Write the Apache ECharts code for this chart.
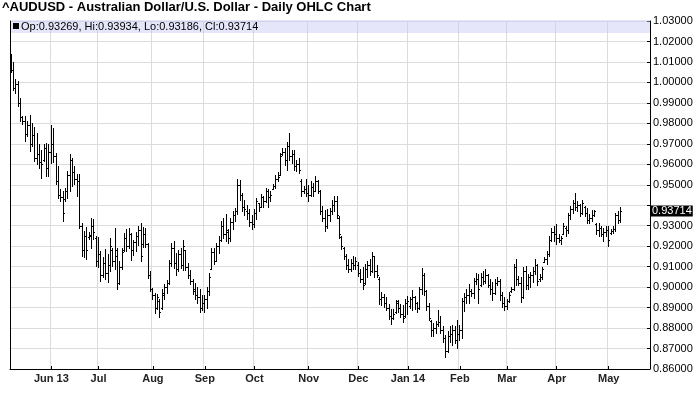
<!DOCTYPE html>
<html>
<head>
<meta charset="utf-8">
<title>AUDUSD Daily OHLC</title>
<script src="https://cdn.jsdelivr.net/npm/echarts@6/dist/echarts.min.js"></script>
<style>
  html, body { margin: 0; padding: 0; background: #fff; }
  #chart { width: 700px; height: 411px; }
</style>
</head>
<body>
<div id="chart"></div>
<script>
// daily bars per month, each row is [open, high, low, close]
const may13 = [
  [1.0130,1.0140,1.0050,1.0060],[1.0060,1.0100,0.9965,0.9975],[0.9975,1.0015,0.9950,0.9990],
  [0.9990,1.0005,0.9885,0.9900],[0.9900,0.9922,0.9810,0.9830],[0.9830,0.9835,0.9795,0.9810],
  [0.9810,0.9835,0.9713,0.9750],[0.9750,0.9810,0.9737,0.9790],[0.9790,0.9843,0.9664,0.9700],
  [0.9700,0.9800,0.9690,0.9745],[0.9745,0.9781,0.9615,0.9630],[0.9630,0.9753,0.9600,0.9650],
  [0.9650,0.9697,0.9583,0.9610],[0.9610,0.9672,0.9531,0.9600],[0.9620,0.9697,0.9615,0.9680],
  [0.9680,0.9705,0.9543,0.9580],[0.9580,0.9697,0.9543,0.9660]
];
const jun13 = [
  [0.9660,0.9794,0.9607,0.9700],[0.9700,0.9775,0.9612,0.9640],[0.9640,0.9656,0.9502,0.9520],
  [0.9520,0.9591,0.9437,0.9450],[0.9450,0.9477,0.9420,0.9440],[0.9440,0.9469,0.9323,0.9360],
  [0.9430,0.9485,0.9420,0.9470],[0.9470,0.9567,0.9437,0.9550],[0.9550,0.9652,0.9470,0.9620],
  [0.9620,0.9633,0.9494,0.9560],[0.9560,0.9592,0.9503,0.9530],[0.9530,0.9551,0.9446,0.9520],
  [0.9520,0.9551,0.9291,0.9300],[0.9300,0.9315,0.9153,0.9180],[0.9180,0.9275,0.9145,0.9250],
  [0.9250,0.9294,0.9137,0.9180],[0.9245,0.9267,0.9234,0.9255],[0.9250,0.9340,0.9193,0.9300],
  [0.9300,0.9332,0.9234,0.9270],[0.9240,0.9250,0.9104,0.9130]
];
const jul13 = [
  [0.9130,0.9245,0.9100,0.9160],[0.9160,0.9177,0.9031,0.9060],[0.9060,0.9145,0.9047,0.9120],
  [0.9120,0.9185,0.9039,0.9070],[0.9070,0.9161,0.9023,0.9110],[0.9110,0.9242,0.9080,0.9200],
  [0.9180,0.9193,0.9104,0.9130],[0.9130,0.9291,0.9088,0.9180],[0.9150,0.9193,0.8990,0.9020],
  [0.9020,0.9128,0.9015,0.9100],[0.9100,0.9193,0.9088,0.9170],[0.9180,0.9262,0.9177,0.9240],
  [0.9240,0.9283,0.9177,0.9200],[0.9200,0.9287,0.9190,0.9260],[0.9260,0.9263,0.9134,0.9180],
  [0.9180,0.9231,0.9158,0.9220],[0.9220,0.9271,0.9174,0.9250],[0.9250,0.9298,0.9206,0.9280],
  [0.9280,0.9311,0.9126,0.9150],[0.9210,0.9295,0.9198,0.9260],[0.9260,0.9287,0.9198,0.9210],
  [0.9210,0.9215,0.9045,0.9060],[0.9060,0.9077,0.8980,0.8990]
];
const aug13 = [
  [0.8990,0.8997,0.8940,0.8960],[0.8960,0.8973,0.8876,0.8900],[0.8900,0.8965,0.8892,0.8950],
  [0.8930,0.8940,0.8852,0.8880],[0.8900,0.8989,0.8895,0.8970],[0.8960,0.9013,0.8940,0.9000],
  [0.9000,0.9037,0.8973,0.9020],[0.9020,0.9134,0.9013,0.9120],[0.9120,0.9215,0.9102,0.9190],
  [0.9190,0.9223,0.9094,0.9120],[0.9120,0.9166,0.9061,0.9090],[0.9090,0.9182,0.9077,0.9160],
  [0.9160,0.9190,0.9094,0.9110],[0.9110,0.9231,0.9085,0.9200],[0.9180,0.9182,0.9085,0.9100],
  [0.9100,0.9118,0.9045,0.9060],[0.9060,0.9085,0.9013,0.9030],[0.9030,0.9040,0.8965,0.8980],
  [0.8990,0.9021,0.8940,0.8960],[0.8960,0.9000,0.8920,0.8950],[0.8950,0.8990,0.8880,0.8900],
  [0.8900,0.8960,0.8890,0.8920]
];
const sep13 = [
  [0.8920,0.8960,0.8880,0.8940],[0.8940,0.9000,0.8900,0.8980],[0.8980,0.9070,0.8960,0.9050],
  [0.9090,0.9193,0.9087,0.9170],[0.9170,0.9193,0.9111,0.9130],[0.9130,0.9217,0.9128,0.9200],
  [0.9200,0.9250,0.9168,0.9230],[0.9230,0.9322,0.9225,0.9300],[0.9300,0.9339,0.9241,0.9260],
  [0.9260,0.9355,0.9225,0.9280],[0.9270,0.9282,0.9217,0.9240],[0.9240,0.9339,0.9225,0.9320],
  [0.9320,0.9371,0.9282,0.9350],[0.9350,0.9387,0.9322,0.9370],[0.9370,0.9528,0.9355,0.9500],
  [0.9500,0.9525,0.9428,0.9450],[0.9450,0.9460,0.9370,0.9390],[0.9390,0.9428,0.9350,0.9380],
  [0.9370,0.9400,0.9335,0.9360],[0.9360,0.9381,0.9300,0.9320],[0.9320,0.9350,0.9284,0.9310]
];
const oct13 = [
  [0.9310,0.9381,0.9292,0.9360],[0.9360,0.9437,0.9332,0.9420],[0.9410,0.9413,0.9373,0.9390],
  [0.9390,0.9453,0.9389,0.9440],[0.9440,0.9445,0.9389,0.9420],[0.9420,0.9485,0.9415,0.9470],
  [0.9470,0.9477,0.9389,0.9440],[0.9440,0.9469,0.9421,0.9450],[0.9480,0.9502,0.9477,0.9495],
  [0.9495,0.9550,0.9485,0.9530],[0.9530,0.9561,0.9518,0.9540],[0.9550,0.9655,0.9550,0.9640],
  [0.9650,0.9679,0.9647,0.9660],[0.9660,0.9679,0.9598,0.9620],[0.9620,0.9711,0.9574,0.9690],
  [0.9690,0.9755,0.9623,0.9640],[0.9640,0.9671,0.9606,0.9650],[0.9650,0.9671,0.9574,0.9590],
  [0.9590,0.9623,0.9566,0.9600],[0.9600,0.9631,0.9558,0.9570],[0.9520,0.9526,0.9445,0.9470],
  [0.9470,0.9494,0.9461,0.9480],[0.9480,0.9526,0.9445,0.9460]
];
const nov13 = [
  [0.9460,0.9500,0.9419,0.9450],[0.9450,0.9516,0.9445,0.9490],[0.9490,0.9508,0.9444,0.9470],
  [0.9470,0.9544,0.9470,0.9520],[0.9520,0.9524,0.9460,0.9470],[0.9470,0.9475,0.9355,0.9370],
  [0.9370,0.9395,0.9323,0.9340],[0.9340,0.9379,0.9274,0.9300],[0.9300,0.9382,0.9290,0.9350],
  [0.9350,0.9387,0.9323,0.9370],[0.9370,0.9424,0.9355,0.9400],[0.9400,0.9447,0.9371,0.9420],
  [0.9420,0.9444,0.9339,0.9350],[0.9340,0.9345,0.9242,0.9260],[0.9245,0.9250,0.9185,0.9200],
  [0.9190,0.9194,0.9137,0.9150],[0.9150,0.9161,0.9089,0.9110],[0.9110,0.9137,0.9073,0.9090],
  [0.9090,0.9137,0.9081,0.9120],[0.9120,0.9153,0.9089,0.9110],[0.9110,0.9145,0.9089,0.9130]
];
const dec13 = [
  [0.9110,0.9121,0.9056,0.9070],[0.9070,0.9089,0.9024,0.9040],[0.9040,0.9100,0.8992,0.9010],
  [0.9020,0.9114,0.9015,0.9090],[0.9090,0.9130,0.9049,0.9110],[0.9110,0.9138,0.9057,0.9080],
  [0.9080,0.9171,0.9075,0.9150],[0.9150,0.9154,0.9049,0.9080],[0.9080,0.9106,0.9049,0.9060],
  [0.9040,0.9049,0.8919,0.8940],[0.8940,0.8976,0.8911,0.8950],[0.8950,0.8967,0.8902,0.8920],
  [0.8920,0.8951,0.8886,0.8900],[0.8900,0.8919,0.8846,0.8860],[0.8860,0.8894,0.8821,0.8850],
  [0.8850,0.8894,0.8846,0.8870],[0.8880,0.8935,0.8875,0.8920],
  [0.8930,0.8935,0.8878,0.8900],[0.8900,0.8919,0.8854,0.8870],[0.8870,0.8911,0.8829,0.8850],
  [0.8860,0.8943,0.8855,0.8920]
];
const jan14 = [
  [0.8920,0.8959,0.8870,0.8930],[0.8910,0.8951,0.8900,0.8940],
  [0.8940,0.8984,0.8886,0.8950],[0.8950,0.8959,0.8894,0.8920],[0.8920,0.8927,0.8878,0.8900],
  [0.8900,0.9000,0.8895,0.8990],[0.8990,0.9092,0.8967,0.9060],[0.9060,0.9070,0.8960,0.8980],
  [0.8980,0.8985,0.8890,0.8910],[0.8910,0.8923,0.8841,0.8850],[0.8835,0.8841,0.8759,0.8790],
  [0.8790,0.8825,0.8759,0.8800],[0.8800,0.8833,0.8775,0.8820],[0.8820,0.8890,0.8808,0.8830],
  [0.8830,0.8857,0.8775,0.8790],[0.8790,0.8808,0.8734,0.8750],[0.8750,0.8767,0.8660,0.8690],
  [0.8690,0.8784,0.8685,0.8760],[0.8760,0.8808,0.8734,0.8770],[0.8770,0.8816,0.8718,0.8790],
  [0.8790,0.8808,0.8726,0.8740],[0.8740,0.8841,0.8702,0.8770]
];
const feb14 = [
  [0.8770,0.8816,0.8743,0.8790],[0.8790,0.8948,0.8751,0.8930],[0.8930,0.8972,0.8882,0.8950],
  [0.8950,0.8989,0.8923,0.8960],[0.8960,0.9013,0.8923,0.8980],[0.8980,0.8989,0.8956,0.8970],
  [0.8970,0.9046,0.8948,0.9030],[0.9030,0.9070,0.9013,0.9040],[0.9040,0.9062,0.8923,0.8990],
  [0.9010,0.9070,0.9005,0.9050],[0.9050,0.9079,0.9013,0.9030],[0.9030,0.9087,0.9021,0.9060],
  [0.9060,0.9065,0.9000,0.9010],[0.9010,0.9040,0.8968,0.8990],[0.8990,0.9024,0.8935,0.8970],
  [0.8970,0.9040,0.8965,0.9020],[0.9020,0.9048,0.9008,0.9030],[0.9030,0.9040,0.8935,0.8960],
  [0.8960,0.8976,0.8903,0.8920],[0.8920,0.8952,0.8887,0.8910]
];
const mar14 = [
  [0.8910,0.8944,0.8895,0.8930],[0.8930,0.8976,0.8927,0.8960],[0.8980,0.9000,0.8976,0.8990],
  [0.8990,0.9113,0.8985,0.9100],[0.9100,0.9137,0.9008,0.9040],[0.9040,0.9056,0.9008,0.9020],
  [0.9020,0.9048,0.8927,0.8950],[0.8950,0.9097,0.8945,0.9080],[0.9080,0.9105,0.8992,0.9010],
  [0.9010,0.9065,0.8992,0.9050],[0.9050,0.9073,0.9000,0.9060],[0.9060,0.9097,0.9024,0.9080],
  [0.9080,0.9137,0.9065,0.9110],[0.9110,0.9115,0.9008,0.9030],[0.9040,0.9065,0.9032,0.9050],
  [0.9050,0.9097,0.9040,0.9090],[0.9125,0.9145,0.9121,0.9135],[0.9135,0.9177,0.9113,0.9160],
  [0.9160,0.9250,0.9153,0.9230],[0.9230,0.9290,0.9226,0.9270],[0.9270,0.9298,0.9226,0.9260]
];
const apr14 = [
  [0.9260,0.9306,0.9210,0.9240],[0.9240,0.9258,0.9218,0.9230],[0.9230,0.9250,0.9210,0.9240],
  [0.9260,0.9315,0.9258,0.9300],[0.9290,0.9298,0.9250,0.9280],[0.9280,0.9363,0.9266,0.9350],
  [0.9350,0.9395,0.9331,0.9380],[0.9380,0.9427,0.9363,0.9410],[0.9410,0.9460,0.9379,0.9390],
  [0.9390,0.9419,0.9371,0.9400],[0.9400,0.9405,0.9347,0.9360],[0.9360,0.9427,0.9355,0.9410],
  [0.9390,0.9395,0.9347,0.9360],[0.9360,0.9387,0.9315,0.9330],[0.9330,0.9355,0.9315,0.9340],
  [0.9340,0.9379,0.9323,0.9350],[0.9350,0.9379,0.9347,0.9370],[0.9310,0.9315,0.9258,0.9280],
  [0.9280,0.9315,0.9250,0.9290],[0.9290,0.9298,0.9250,0.9260],[0.9260,0.9290,0.9226,0.9270],
  [0.9270,0.9298,0.9250,0.9280]
];
const may14 = [
  [0.9280,0.9298,0.9202,0.9230],[0.9265,0.9282,0.9258,0.9275],[0.9275,0.9298,0.9266,0.9285],
  [0.9285,0.9363,0.9274,0.9350],[0.9350,0.9371,0.9315,0.9327],[0.93269,0.93934,0.93186,0.93714]
];

const monthKeys = ['2013-06','2013-07','2013-08','2013-09','2013-10','2013-11','2013-12',
                   '2014-01','2014-02','2014-03','2014-04','2014-05'];
const monthLabels = ['Jun 13','Jul','Aug','Sep','Oct','Nov','Dec','Jan 14','Feb','Mar','Apr','May'];
const holidays = ['2013-12-25', '2014-01-01'];   // no fx bar on these days
const firstDay = [2013, 4, 9];   // first bar, 9 May 2013
const padDays = 12;              // empty days kept at the right edge
const priceMin = 0.86, priceMax = 1.03, priceStep = 0.01;

const bars = [].concat(may13, jun13, jul13, aug13, sep13, oct13, nov13, dec13,
                       jan14, feb14, mar14, apr14, may14);
const last = bars[bars.length - 1];

// trading-day categories
const dates = [];
const d = new Date(Date.UTC(firstDay[0], firstDay[1], firstDay[2]));
while (dates.length < bars.length + padDays) {
    const wd = d.getUTCDay();
    const s = d.toISOString().slice(0, 10);
    if (wd !== 0 && wd !== 6 && holidays.indexOf(s) < 0) dates.push(s);
    d.setUTCDate(d.getUTCDate() + 1);
}

// first trading day of each month gets a label
const labelAt = {};
dates.forEach((s, i) => {
    const key = s.slice(0, 7);
    const k = monthKeys.indexOf(key);
    if (k >= 0 && (i === 0 || dates[i - 1].slice(0, 7) !== key)) labelAt[i] = monthLabels[k];
});
const isMonthStart = (idx) => labelAt[idx] !== undefined;

const FONT = '"Liberation Sans", Arial, Helvetica, sans-serif';

const renderOhlc = (params, api) => {
    const i = api.value(0);
    const op = api.coord([i, api.value(1)]);
    const hi = api.coord([i, api.value(2)]);
    const lo = api.coord([i, api.value(3)]);
    const cl = api.coord([i, api.value(4)]);
    const x = Math.floor(hi[0]);
    const top = Math.round(hi[1]);
    const bottom = Math.round(lo[1]);
    const fill = {fill: '#000'};
    return {
        type: 'group',
        children: [
            {type: 'rect', shape: {x: x, y: top, width: 1, height: Math.max(1, bottom - top + 1)}, style: fill},
            {type: 'rect', shape: {x: x - 1, y: Math.round(op[1]), width: 1, height: 1}, style: fill},
            {type: 'rect', shape: {x: x + 1, y: Math.round(cl[1]), width: 1, height: 1}, style: fill}
        ]
    };
};

const chart = echarts.init(document.getElementById('chart'), null, {renderer: 'canvas'});

const option = {
    animation: false,
    backgroundColor: '#fff',
    title: {
        text: '^AUDUSD - Australian Dollar/U.S. Dollar - Daily OHLC Chart',
        left: 2,
        top: 1,
        padding: 0,
        textStyle: {fontFamily: FONT, fontSize: 13, fontWeight: 'bold', color: '#000'}
    },
    grid: {left: 10, right: 50, top: 21, bottom: 42},
    xAxis: {
        type: 'category',
        data: dates,
        boundaryGap: true,
        axisLine: {lineStyle: {color: '#000', width: 1}},
        axisTick: {show: true, inside: true, length: 3, alignWithLabel: true,
                   interval: isMonthStart, lineStyle: {color: '#000'}},
        axisLabel: {
            interval: isMonthStart,
            formatter: (v, idx) => labelAt[idx] || '',
            fontFamily: FONT, fontSize: 11, fontWeight: 'bold', color: '#222', margin: 4
        },
        splitLine: {show: true, interval: isMonthStart, lineStyle: {color: '#dcdcdc', width: 1}}
    },
    yAxis: [
        {
            type: 'value',
            position: 'right',
            min: priceMin,
            max: priceMax,
            interval: priceStep,
            axisLine: {show: true, lineStyle: {color: '#000'}},
            axisTick: {show: true, inside: true, length: 3, lineStyle: {color: '#000'}},
            axisLabel: {
                fontFamily: FONT, fontSize: 11, color: '#000', margin: 3,
                // the last-price box sits over 0.94
                formatter: (v) => Math.abs(v - 0.94) < 1e-6 ? '' : v.toFixed(5)
            },
            splitLine: {show: true, lineStyle: {color: '#dcdcdc', width: 1}}
        },
        {
            type: 'value',
            position: 'left',
            min: priceMin,
            max: priceMax,
            axisLine: {show: true, lineStyle: {color: '#000'}},
            axisTick: {show: false},
            axisLabel: {show: false},
            splitLine: {show: false}
        }
    ],
    series: [{
        type: 'custom',
        name: 'AUDUSD',
        yAxisIndex: 0,
        silent: true,
        renderItem: renderOhlc,
        encode: {x: 0, y: [1, 2, 3, 4]},
        data: bars.map((b, i) => [i, b[0], b[1], b[2], b[3]])
    }]
};

chart.setOption(option);

// header band and last-price marker, placed through the axes
const lastY = chart.convertToPixel({yAxisIndex: 0}, last[3]);
const f5 = (v) => v.toFixed(5);

chart.setOption({
    graphic: [
        {type: 'rect', z: 5, shape: {x: 11, y: 20, width: 639, height: 13},
         style: {fill: 'rgba(200,200,245,0.45)'}},
        {type: 'rect', z: 6, shape: {x: 13, y: 23, width: 6, height: 6}, style: {fill: '#000'}},
        {type: 'text', z: 6, x: 21, y: 26.5,
         style: {text: 'Op:' + f5(last[0]) + ', Hi:' + f5(last[1]) + ', Lo:' + f5(last[2]) + ', Cl:' + f5(last[3]),
                 font: '11px ' + FONT, fill: '#000', verticalAlign: 'middle', textVerticalAlign: 'middle'}},
        {type: 'text', z: 10, x: 651, y: lastY,
         style: {text: f5(last[3]), font: '11px ' + FONT, fill: '#fff', backgroundColor: '#000',
                 padding: [0, 1, 0, 1], verticalAlign: 'middle', textVerticalAlign: 'middle'}}
    ]
});
</script>
</body>
</html>
